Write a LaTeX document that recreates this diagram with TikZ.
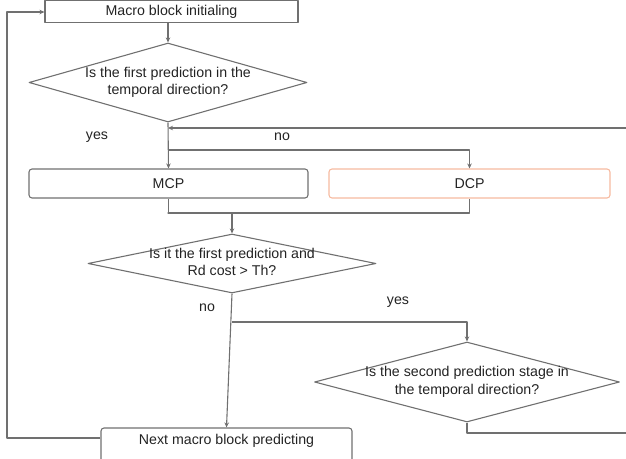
\documentclass[tikz,border=0pt]{standalone}
\usepackage{fontspec}
\setmainfont{Liberation Sans}
\usetikzlibrary{shapes.geometric,arrows.meta}
\definecolor{linegray}{RGB}{112,112,112}
\definecolor{dcpedge}{RGB}{246,186,160}
\definecolor{txtgray}{RGB}{35,35,35}

\begin{document}
\begin{tikzpicture}[x=1pt, y=-1pt, line join=round,
    font=\fontsize{14.2}{17.5}\selectfont, text=txtgray,
    line/.style={draw=linegray, line width=1.1pt},
    arr/.style={line, -{Stealth[length=5pt,width=4.5pt]}},
    box/.style={draw=linegray, line width=1.1pt, rectangle, inner sep=0pt},
    rbox/.style={box, rounded corners=3pt},
    decision/.style={draw=linegray, line width=1.1pt, diamond, inner sep=0pt},
    lbl/.style={align=center, inner sep=0pt}]
    \useasboundingbox (0,0) rectangle (626,458);
    \clip (0,0) rectangle (626,458);
    % boxes and decisions
    \node[box, minimum width=253pt, minimum height=21.5pt] (init) at (171.5,11.5) {Macro block initialing};
    \node[decision, minimum width=278pt, minimum height=79pt] (q1) at (168,82.5) {};
    \node[lbl] at (q1) {Is the first prediction in the\\temporal direction?};
    \node[rbox, minimum width=279pt, minimum height=29pt] (mcp) at (168.5,183.5) {MCP};
    \node[rbox, draw=dcpedge, minimum width=281pt, minimum height=29pt] (dcp) at (469.5,183.5) {DCP};
    \node[decision, minimum width=288pt, minimum height=59pt] (q2) at (232,263.5) {};
    \node[lbl] at (232,262) {Is it the first prediction and\\Rd cost > Th?};
    \node[decision, minimum width=305pt, minimum height=80pt] (q3) at (467,382) {};
    \node[lbl] at (q3) {Is the second prediction stage in\\the temporal direction?};
    \node[rbox, minimum width=251pt, minimum height=36pt] (next) at (226.5,446) {};
    \node[lbl] at (226.5,441) {Next macro block predicting};
    % junctions
    \coordinate (j1) at (168,128);
    \coordinate (j2) at (168,150);
    \coordinate (j3) at (168,213);
    \coordinate (j4) at (232,322);
    \coordinate (rt) at (640,128);
    \coordinate (rb) at (640,433);
    \coordinate (lt) at (7,12);
    \coordinate (lb) at (7,438);
    % connectors
    \draw[arr] (init.south -| q1.north) -- (q1.north);
    \draw[arr] (q1.south) -- (mcp.north);
    \draw[arr] (j2) -| (dcp.north);
    \draw[line] (mcp.south) |- (j3) -| (dcp.south);
    \draw[arr] (q2.north |- j3) -- (q2.north);
    \draw[arr] (q2.south) -- (next.north);
    \draw[arr] (j4) -| (q3.north);
    \draw[arr] (q3.south) |- (rb) -- (rt) -- (j1);
    \draw[arr] (next.west |- lb) -- (lb) -- (lt) -- (init.west |- lt);
    % branch labels
    \node at (97,137) {yes};
    \node at (282,137) {no};
    \node at (207,308) {no};
    \node at (398,302) {yes};
\end{tikzpicture}
\end{document}
